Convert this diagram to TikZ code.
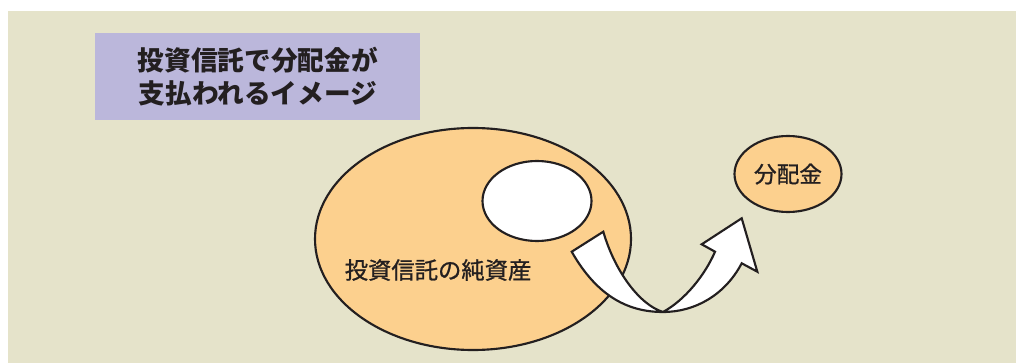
\documentclass[tikz,border=0pt]{standalone}
\usepackage{fontspec}
\setmainfont{Noto Sans CJK JP}
\newfontfamily\jpmed{Noto Sans CJK JP}[FakeBold=0.9]
\usetikzlibrary{shapes.geometric}
\definecolor{bgbeige}{HTML}{E5E3CA}
\definecolor{titlepurple}{HTML}{BBB7DB}
\definecolor{assetorange}{HTML}{FCD08E}
\definecolor{inkdark}{HTML}{231F20}
\begin{document}
\begin{tikzpicture}[x=0.75pt,y=-0.75pt,
  outl/.style={draw=inkdark,line width=1.6pt},
  blob/.style={ellipse,outl,inner sep=0pt}]
\useasboundingbox (0,0) rectangle (1016,363);
\fill[bgbeige] (8,11) rectangle (1016,363);
\node[fill=titlepurple,minimum width=325*0.75pt,minimum height=87*0.75pt,inner sep=0pt,anchor=north west,
  align=center,font=\bfseries\fontsize{20}{25}\selectfont,text=inkdark] (title) at (95,33) {投資信託で分配金が\\支払われるイメージ};
\node[blob,fill=assetorange,minimum width=316*0.75pt,minimum height=222*0.75pt] (assets) at (473,239) {};
\node[blob,fill=white,minimum width=109*0.75pt,minimum height=80*0.75pt] (hole) at (537,201) {};
\node[anchor=west,font=\jpmed\fontsize{17.5}{20}\selectfont,text=inkdark] (lbl) at (340,270) {投資信託の純資産};
\node[blob,fill=assetorange,minimum width=107*0.75pt,minimum height=76*0.75pt,
  font=\jpmed\fontsize{17}{20}\selectfont,text=inkdark] (div) at (788,174) {分配金};
\draw[outl,fill=white,line join=miter]
  (571.7,251.7) -- (603.3,231.7)
  .. controls (615,272) and (640,305) .. (663,312)
  .. controls (685,300) and (705,275) .. (715,251.7)
  -- (701.7,244.3) -- (741.7,218.3) -- (757.3,271.7) -- (741.7,263.3)
  .. controls (725,295) and (695,312) .. (663,312)
  .. controls (630,312) and (598,298) .. (571.7,251.7) -- cycle;
\end{tikzpicture}
\end{document}
